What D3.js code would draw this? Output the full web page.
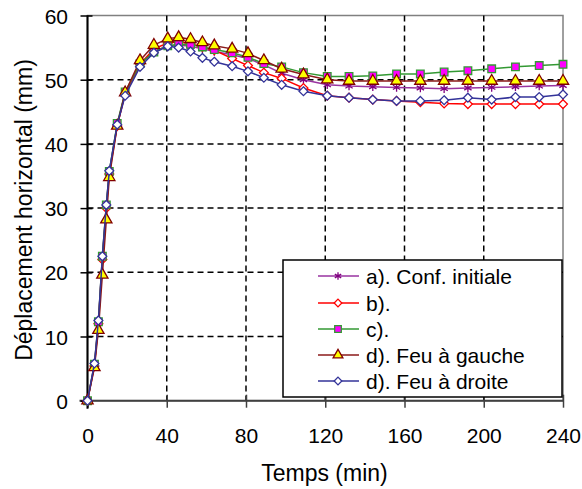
<!DOCTYPE html>
<html>
<head>
<meta charset="utf-8">
<script src="https://cdn.jsdelivr.net/npm/d3@7"></script>
<style>
  html, body { margin: 0; padding: 0; background: #fff; }
  svg { display: block; font-family: "Liberation Sans", Arial, sans-serif; }
</style>
</head>
<body>
<svg id="chart" width="582" height="489"></svg>
<script>
// ---- data ----
const times = [0, 3.5, 5.5, 7.5, 9.5, 11, 15, 19, 26.5, 33.5, 40.5, 46, 52, 58, 64, 73, 81, 89, 98, 109, 121, 132, 144, 156, 168, 180, 192, 204, 216, 228, 240];
const confInitiale = [0, 5.6, 12.2, 22.3, 30.3, 35.6, 43.0, 48.0, 52.4, 54.4, 55.3, 55.4, 55.2, 54.8, 54.4, 53.9, 53.3, 52.3, 51.0, 50.0, 49.2, 49.0, 48.9, 48.8, 48.7, 48.6, 48.7, 48.8, 48.9, 49.0, 49.1];
const serieB = [0, 5.4, 12.0, 22.0, 30.0, 35.3, 42.8, 47.8, 52.4, 54.8, 55.7, 55.9, 55.6, 55.1, 54.6, 53.3, 52.2, 51.1, 50.2, 48.7, 47.5, 47.2, 46.9, 46.7, 46.5, 46.3, 46.2, 46.2, 46.2, 46.2, 46.2];
const serieC = [0, 5.7, 12.3, 22.5, 30.5, 35.7, 43.2, 48.1, 52.5, 54.3, 55.3, 55.5, 55.5, 55.1, 54.7, 54.2, 53.5, 52.5, 52.0, 51.1, 50.5, 50.5, 50.6, 50.9, 50.9, 51.2, 51.4, 51.7, 52.0, 52.2, 52.4];
const feuGauche = [0, 5.2, 11.0, 19.6, 28.2, 34.8, 42.8, 48.0, 53.0, 55.4, 56.4, 56.6, 56.3, 55.8, 55.3, 54.8, 54.1, 53.0, 51.7, 50.8, 50.0, 49.8, 49.8, 49.8, 49.8, 49.8, 49.8, 49.8, 49.8, 49.8, 49.8];
const feuDroite = [0, 5.8, 12.5, 22.5, 30.5, 35.8, 43.0, 47.5, 52.0, 54.2, 55.2, 55.0, 54.4, 53.4, 52.8, 52.1, 51.3, 50.3, 49.2, 48.2, 47.5, 47.2, 46.9, 46.7, 46.7, 46.8, 47.2, 46.9, 47.3, 47.3, 47.7];
const seriesNames = ["a). Conf. initiale", "b).", "c).", "d). Feu à gauche", "d). Feu à droite"];
const xTicks = [0, 40, 80, 120, 160, 200, 240];
const yTicks = [0, 10, 20, 30, 40, 50, 60];
const xTitle = "Temps (min)";
const yTitle = "Déplacement horizontal (mm)";

const seriesData = [confInitiale, serieB, serieC, feuGauche, feuDroite];
const styles = [
  { line: "#9933A0", stroke: "#800080", fill: "none",    sym: d3.symbolAsterisk, size: 50 },
  { line: "#FF0000", stroke: "#FF0000", fill: "#FFFFFF", sym: d3.symbolDiamond2 || d3.symbolDiamond, size: 50 },
  { line: "#339933", stroke: "#339933", fill: "#FF00FF", sym: d3.symbolSquare,   size: 58 },
  { line: "#8B1A1A", stroke: "#800000", fill: "#FFFF00", sym: d3.symbolTriangle, size: 55 },
  { line: "#333399", stroke: "#333399", fill: "#FFFFFF", sym: d3.symbolDiamond2 || d3.symbolDiamond, size: 50 }
];

// ---- layout ----
const svg = d3.select("#chart");
const x = d3.scaleLinear().domain([0, 240]).range([87.5, 563]);
const y = d3.scaleLinear().domain([0, 60]).range([400.7, 15.5]);

// plot border
svg.append("rect")
  .attr("x", x(0)).attr("y", y(60))
  .attr("width", x(240) - x(0)).attr("height", y(0) - y(60))
  .attr("fill", "#fff").attr("stroke", "#808080").attr("stroke-width", 1.5);

// grid lines
const grid = svg.append("g");
grid.selectAll("line.gx").data(xTicks.filter(d => d > 0 && d < 240)).enter().append("line")
  .attr("x1", d => x(d)).attr("x2", d => x(d)).attr("y1", y(60)).attr("y2", y(0))
  .attr("stroke", "#000").attr("stroke-width", 1.5).attr("stroke-dasharray", "6,4");
grid.selectAll("line.gy").data(yTicks.filter(d => d > 0 && d < 60)).enter().append("line")
  .attr("x1", x(0)).attr("x2", x(240)).attr("y1", d => y(d)).attr("y2", d => y(d))
  .attr("stroke", "#000").attr("stroke-width", 1.5).attr("stroke-dasharray", "6,4");

// axes
const xAxis = d3.axisBottom(x).tickValues(xTicks).tickSize(0).tickPadding(0);
const gx = svg.append("g").attr("transform", `translate(0,${y(0)})`).call(xAxis);
gx.select(".domain").remove();
gx.selectAll("text").remove();
gx.selectAll(".tick").append("line").attr("y1", -6).attr("y2", 7).attr("stroke", "#404040").attr("stroke-width", 1.5);
gx.selectAll(".tick").append("text").attr("y", 42).attr("text-anchor", "middle")
  .attr("fill", "#000").attr("font-size", 21).text(d => d);
svg.append("line").attr("x1", x(0) - 8).attr("x2", x(240)).attr("y1", y(0)).attr("y2", y(0))
  .attr("stroke", "#404040").attr("stroke-width", 2);

const yAxis = d3.axisLeft(y).tickValues(yTicks).tickSize(0);
const gy = svg.append("g").attr("transform", `translate(${x(0)},0)`).call(yAxis);
gy.select(".domain").remove();
gy.selectAll("text").remove();
gy.selectAll(".tick").append("line").attr("x1", -7).attr("x2", 5).attr("stroke", "#000").attr("stroke-width", 1.5);
gy.selectAll(".tick").append("text").attr("x", -19.5).attr("dy", "0.36em").attr("text-anchor", "end")
  .attr("fill", "#000").attr("font-size", 21).text(d => d);
svg.append("line").attr("x1", x(0)).attr("x2", x(0)).attr("y1", y(60)).attr("y2", y(0) + 8)
  .attr("stroke", "#000").attr("stroke-width", 2);

// titles
svg.append("text").attr("x", 324.5).attr("y", 481).attr("text-anchor", "middle")
  .attr("font-size", 23).attr("fill", "#000").text(xTitle);
svg.append("text").attr("transform", "translate(32,210) rotate(-90)").attr("text-anchor", "middle")
  .attr("font-size", 23).attr("fill", "#000").text(yTitle);

// series
const line = d3.line().x(d => x(d[0])).y(d => y(d[1]));
seriesData.forEach((vals, i) => {
  const pts = times.map((t, k) => [t, vals[k]]);
  const st = styles[i];
  const g = svg.append("g");
  g.append("path").datum(pts).attr("d", line).attr("fill", "none")
    .attr("stroke", st.line).attr("stroke-width", 1.5);
  g.selectAll("path.m").data(pts).enter().append("path")
    .attr("transform", d => `translate(${x(d[0])},${y(d[1])})`)
    .attr("d", d3.symbol().type(st.sym).size(st.size))
    .attr("fill", st.fill).attr("stroke", st.stroke).attr("stroke-width", 1.3);
});

// legend
const lg = svg.append("g");
lg.append("rect").attr("x", 283).attr("y", 260).attr("width", 279).attr("height", 137)
  .attr("fill", "#fff").attr("stroke", "#000").attr("stroke-width", 1.5);
const rowY = [276, 303, 329, 355, 381];
seriesNames.forEach((name, i) => {
  const st = styles[i];
  lg.append("line").attr("x1", 318).attr("x2", 359).attr("y1", rowY[i]).attr("y2", rowY[i])
    .attr("stroke", st.line).attr("stroke-width", 1.5);
  lg.append("path").attr("transform", `translate(338,${rowY[i]})`)
    .attr("d", d3.symbol().type(st.sym).size(st.size * 0.75))
    .attr("fill", st.fill).attr("stroke", st.stroke).attr("stroke-width", 1.3);
  lg.append("text").attr("x", 366).attr("y", rowY[i]).attr("dy", "0.36em")
    .attr("font-size", 21).attr("fill", "#000").text(name);
});
</script>
</body>
</html>
